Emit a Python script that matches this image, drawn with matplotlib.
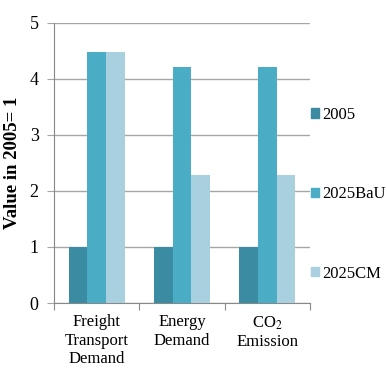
import numpy as np
import matplotlib.pyplot as plt
from matplotlib.patches import Patch

categories = ["Freight\nTransport\nDemand", "Energy\nDemand", "CO$_2$\nEmission"]
series = ["2005", "2025BaU", "2025CM"]
v2005 = [1.0, 1.0, 1.0]
vbau = [4.48, 4.21, 4.21]
vcm = [4.48, 2.29, 2.29]
colors = ["#3b8ba3", "#4bacc6", "#a8d0de"]

plt.rcParams['font.family'] = ['Liberation Serif', 'DejaVu Serif']
plt.rcParams['mathtext.fontset'] = 'stix'

fig = plt.figure(figsize=(3.87, 3.70), dpi=100)
ax = fig.add_axes([54/387, 1 - 303/370, (310 - 54)/387, (303 - 23)/370])

x = np.arange(len(categories))
w = 0.22
for i, (vals, c) in enumerate(zip([v2005, vbau, vcm], colors)):
    ax.bar(x + (i - 1) * w, vals, w, color=c, zorder=3)

ax.set_xlim(-0.5, 2.5)
ax.set_ylim(0, 5)
ax.set_yticks(range(6))
ax.yaxis.grid(True, color="#a6a6a6", linewidth=1, zorder=0)
ax.set_xticks([-0.5, 0.5, 1.5, 2.5])
ax.set_xticklabels([])
ax.set_xticks(x, minor=True)
ax.set_xticklabels(categories, minor=True, fontsize=12, linespacing=1.2, va="top")
ax.tick_params(axis="x", which="minor", length=0, pad=8)
ax.tick_params(axis="x", which="major", length=5, color="#888888")
ax.tick_params(axis="y", length=5, color="#a6a6a6", labelsize=13, pad=6)
for s in ["top", "right"]:
    ax.spines[s].set_visible(False)
for s in ["left", "bottom"]:
    ax.spines[s].set_color("#888888")

ax.set_ylabel("Value in 2005= 1", fontsize=13.5, fontweight="bold", labelpad=6)

handles = [Patch(color=c) for c in colors]
fig.legend(handles, series, loc="upper left", bbox_to_anchor=(311/387, 1 - 107/370),
           frameon=False, fontsize=12, labelspacing=3.8, handlelength=0.5,
           handleheight=0.5, handletextpad=0.2, borderaxespad=0, borderpad=0)

fig.savefig("out.png", dpi=100)
